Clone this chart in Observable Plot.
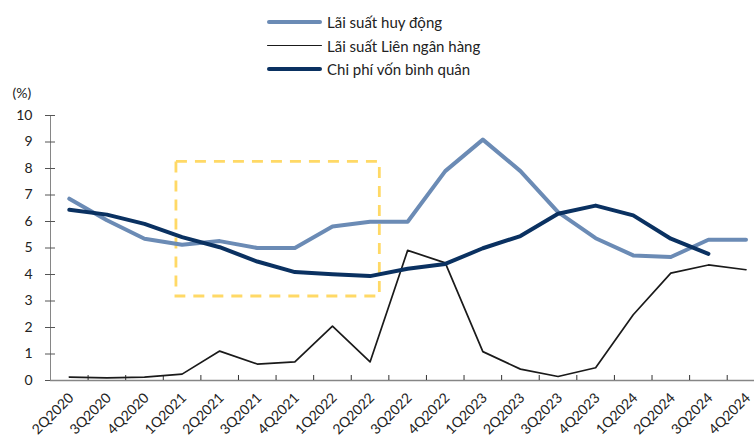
<!DOCTYPE html>
<html>
<head>
<meta charset="utf-8">
<script src="https://cdn.jsdelivr.net/npm/d3@7"></script>
<script src="https://cdn.jsdelivr.net/npm/@observablehq/plot@0.6"></script>
<style>
  html, body { margin: 0; padding: 0; background: #fff; }
  body { width: 754px; height: 437px; overflow: hidden; font-family: Lato, "Open Sans", sans-serif; color: #222; }
  #legend { position: relative; height: 78px; width: 754px; }
  .item { position: absolute; left: 267px; display: flex; align-items: center; font-size: 15px; height: 20px; }
  .sw { width: 55px; margin-right: 5px; border-radius: 2px; }
  svg { display: block; }
</style>
</head>
<body>
<div id="legend"></div>
<div id="chart"></div>
<script>
const quarters = ["2Q2020","3Q2020","4Q2020","1Q2021","2Q2021","3Q2021","4Q2021","1Q2022","2Q2022","3Q2022","4Q2022","1Q2023","2Q2023","3Q2023","4Q2023","1Q2024","2Q2024","3Q2024","4Q2024"];
const seriesNames = ["Lãi suất huy động", "Lãi suất Liên ngân hàng", "Chi phí vốn bình quân"];
const depositRate = [6.86, 6.05, 5.35, 5.12, 5.26, 5.0, 5.0, 5.81, 5.99, 5.99, 7.9, 9.09, 7.9, 6.35, 5.37, 4.72, 4.66, 5.31, 5.31];
const interbankRate = [0.13, 0.1, 0.13, 0.24, 1.11, 0.62, 0.7, 2.05, 0.7, 4.91, 4.44, 1.09, 0.43, 0.15, 0.48, 2.48, 4.05, 4.36, 4.18];
const costOfFunds = [6.44, 6.26, 5.91, 5.41, 5.03, 4.49, 4.09, 4.01, 3.94, 4.22, 4.4, 4.99, 5.45, 6.29, 6.6, 6.23, 5.35, 4.78, null];
const yTicks = [0,1,2,3,4,5,6,7,8,9,10];
const highlightBox = [{from: 2.85, to: 8.26, low: 3.17, high: 8.25}];

const colors = ["#6b8bb5", "#1a1a1a", "#0a3161"];
const widths = [4, 1.7, 4];

// legend
const legend = document.getElementById("legend");
seriesNames.forEach((name, k) => {
  const it = document.createElement("div");
  it.className = "item";
  it.style.top = (12 + k * 23.5) + "px";
  const sw = document.createElement("span");
  sw.className = "sw";
  sw.style.height = widths[k] + "px";
  sw.style.background = colors[k];
  const tx = document.createElement("span");
  tx.textContent = name;
  it.appendChild(sw); it.appendChild(tx);
  legend.appendChild(it);
});

const idx = d3.range(quarters.length);
const rows = (vals) => idx.map(i => ({i, v: vals[i]}));
const boundaries = d3.range(0.5, quarters.length - 1, 1);

const chart = Plot.plot({
  width: 754,
  height: 359,
  marginLeft: 50,
  marginRight: 0,
  marginTop: 37,
  marginBottom: 57,
  style: {fontFamily: "Lato, 'Open Sans', sans-serif", fontSize: "14px", color: "#222", background: "#fff"},
  x: {type: "linear", domain: [-0.5, 18.226], axis: null},
  y: {domain: [0, 10], axis: null},
  marks: [
    Plot.rect(highlightBox, {x1: "from", x2: "to", y1: "low", y2: "high", fill: "none", stroke: "#ffd966", strokeWidth: 2.8, strokeDasharray: "11,8"}),
    Plot.ruleX([-0.5], {y1: 0, y2: 10, stroke: "#868686", strokeWidth: 1}),
    Plot.axisY({ticks: yTicks, tickSize: 10, dx: 5, text: null, stroke: "#555"}),
    Plot.axisY({ticks: yTicks, tickSize: 0, tickPadding: 18, fill: "#222", fontSize: 14}),
    Plot.ruleY([0], {stroke: "#868686", strokeWidth: 1.5}),
    Plot.axisX({ticks: boundaries, tickSize: 5, dy: -5, text: null, stroke: "#333"}),
    Plot.axisX({ticks: idx, tickSize: 0, tickPadding: 15, dx: 2, tickRotate: -45, tickFormat: i => quarters[i], fill: "#222", fontSize: 14}),
    Plot.text(["(%)"], {frameAnchor: "top-left", dx: -38, dy: -27, textAnchor: "start", fontSize: 14, fill: "#222"}),
    Plot.line(rows(depositRate), {x: "i", y: "v", stroke: colors[0], strokeWidth: widths[0], strokeLinejoin: "round", strokeLinecap: "round"}),
    Plot.line(rows(interbankRate), {x: "i", y: "v", stroke: colors[1], strokeWidth: widths[1], strokeLinejoin: "round"}),
    Plot.line(rows(costOfFunds), {x: "i", y: "v", stroke: colors[2], strokeWidth: widths[2], strokeLinejoin: "round", strokeLinecap: "round"})
  ]
});
document.getElementById("chart").appendChild(chart);
</script>
</body>
</html>
